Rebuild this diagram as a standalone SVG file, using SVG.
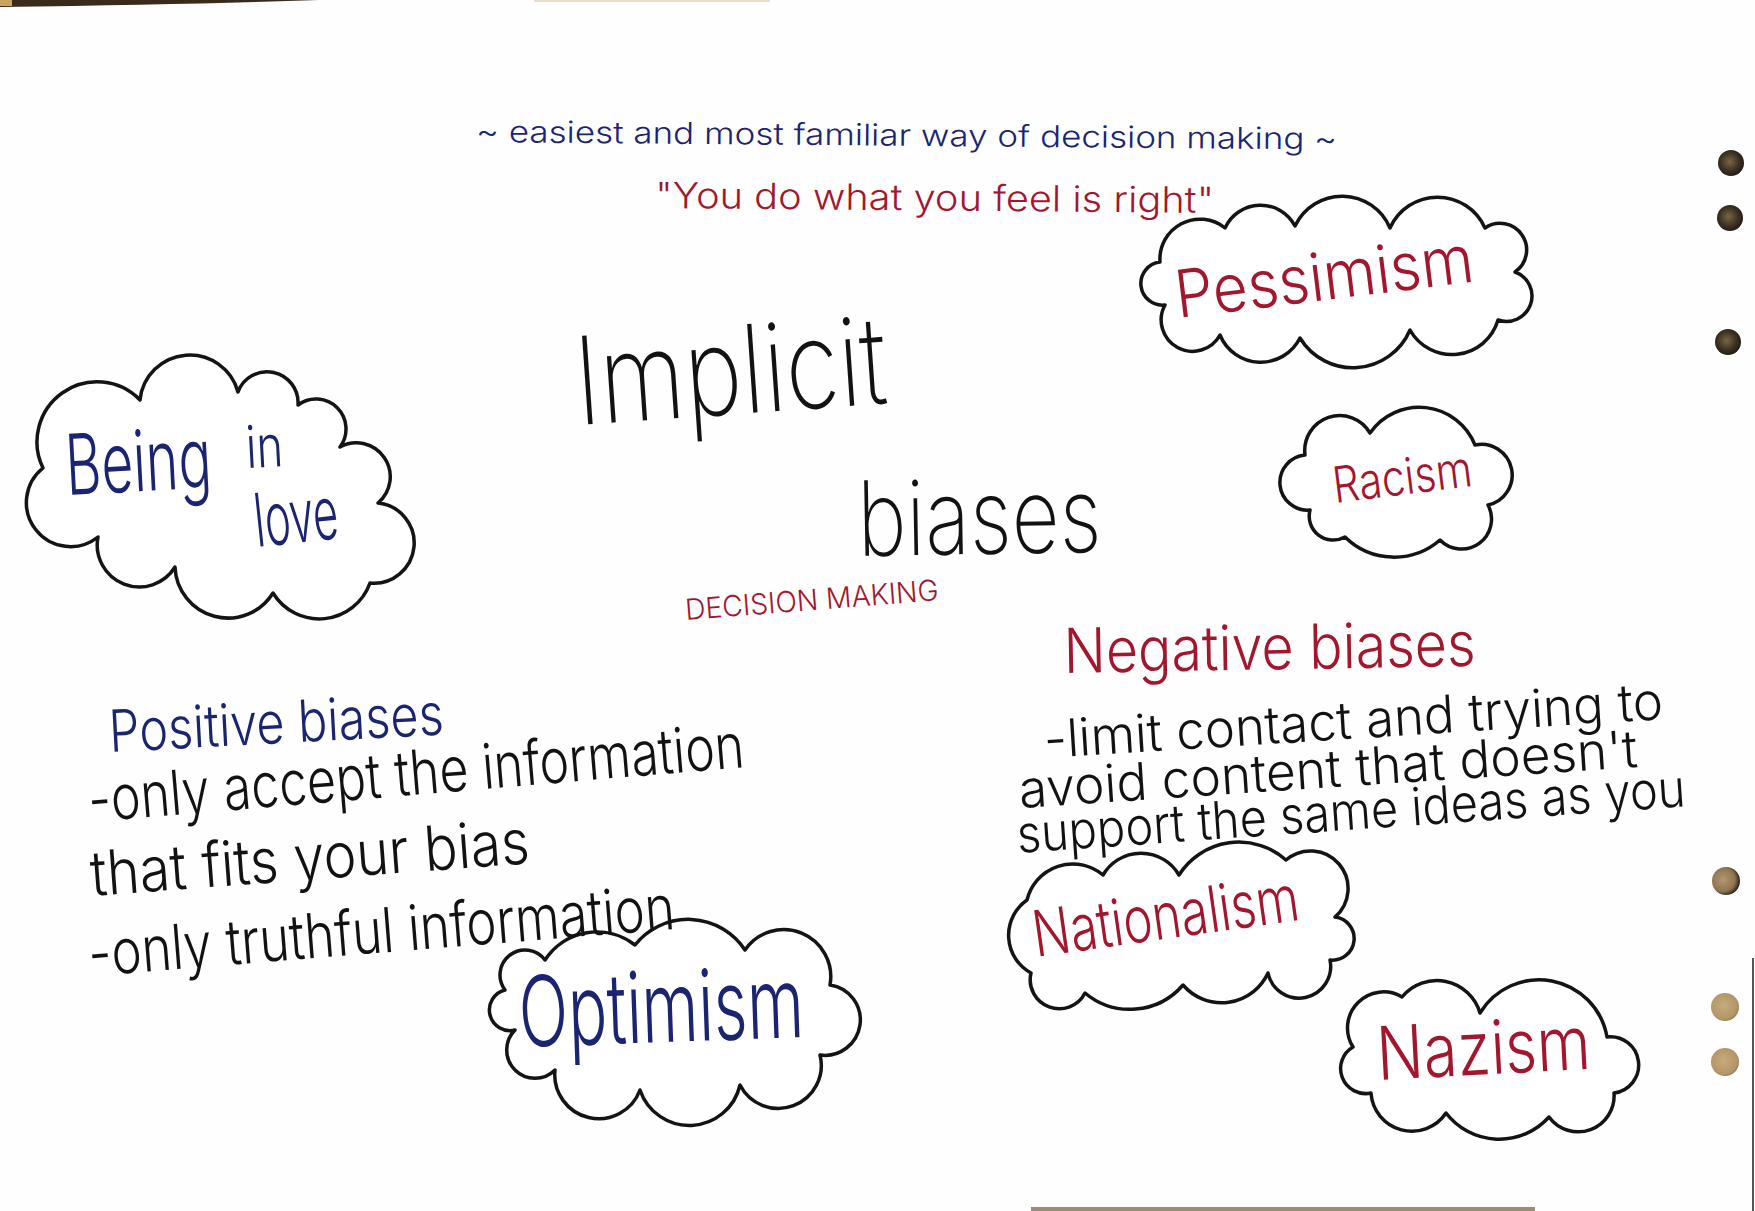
<svg xmlns="http://www.w3.org/2000/svg" width="1755" height="1211" viewBox="0 0 1755 1211">
<style>
.cloud{fill:#fff;stroke:#141414;stroke-width:3.5;stroke-linejoin:round}
.hw{font-family:Inter,"Liberation Sans",sans-serif;font-weight:300}
.thin{font-weight:200}
.blue{fill:#1b2470}
.red{fill:#a3172e}
.blk{fill:#121212}
</style>
<defs>
<radialGradient id="holeDark" cx="0.45" cy="0.45" r="0.6">
<stop offset="0" stop-color="#7a6646"/>
<stop offset="0.6" stop-color="#3c3122"/>
<stop offset="1" stop-color="#1e1810"/>
</radialGradient>
<radialGradient id="holeMix" cx="0.4" cy="0.45" r="0.6">
<stop offset="0" stop-color="#b29770"/>
<stop offset="0.7" stop-color="#8e7551"/>
<stop offset="1" stop-color="#2a2016"/>
</radialGradient>
<radialGradient id="holeTan" cx="0.45" cy="0.45" r="0.6">
<stop offset="0" stop-color="#c7ab7c"/>
<stop offset="0.8" stop-color="#b39567"/>
<stop offset="1" stop-color="#8c7350"/>
</radialGradient>
</defs>
<rect x="0" y="0" width="1755" height="1211" fill="#fefefe"/>
<g id="paper-edges">
<path d="M0,0 H318 Q200,4 0,7 Z" fill="#3a2a1b"/>
<rect x="0" y="0" width="12" height="6" fill="#c9a45e"/>
<rect x="534" y="0" width="236" height="2" fill="#e8e0cc"/>
<rect x="1031" y="1207" width="504" height="4" fill="#9a8c76"/>
<line x1="1753" y1="958" x2="1753" y2="1211" stroke="#555" stroke-width="2"/>
</g>
<g id="holes">
<circle cx="1731" cy="163" r="13" fill="url(#holeDark)"/>
<circle cx="1730" cy="218" r="13" fill="url(#holeDark)"/>
<circle cx="1728" cy="342" r="13" fill="url(#holeDark)"/>
<circle cx="1726" cy="881" r="14" fill="url(#holeMix)"/>
<circle cx="1725" cy="1007" r="14" fill="url(#holeTan)"/>
<circle cx="1725" cy="1062" r="14" fill="url(#holeTan)"/>
</g>
<g id="connectors"></g>
<g id="header">
<text class="hw blue" x="476" y="142" font-size="30" textLength="861" lengthAdjust="spacingAndGlyphs" transform="rotate(0.5 476 142)">~ easiest and most familiar way of decision making ~</text>
<text class="hw red" x="655" y="208" font-size="36" textLength="559" lengthAdjust="spacingAndGlyphs" transform="rotate(0.5 655 208)">"You do what you feel is right"</text>
</g>
<g id="title">
<text class="hw thin blk" x="578" y="425" font-size="122" textLength="312" lengthAdjust="spacingAndGlyphs" transform="rotate(-4 578 425)">Implicit</text>
<text class="hw thin blk" x="858" y="556" font-size="104" textLength="244" lengthAdjust="spacingAndGlyphs" transform="rotate(-1 858 556)">biases</text>
<text class="hw red" x="686" y="620" font-size="29" font-weight="600" textLength="254" lengthAdjust="spacingAndGlyphs" transform="rotate(-4.5 686 620)">DECISION MAKING</text>
</g>
<g id="being-in-love">
<path class="cloud" d="M43,468 A60,60 0 0 1 140,400 A50,50 0 0 1 238,392 A31,31 0 0 1 298,405 A30,30 0 0 1 340,447 A34,34 0 0 1 378,503 A40,40 0 0 1 370,583 A54,54 0 0 1 273,593 A53,53 0 0 1 175,567 A42,42 0 0 1 98,537 A44,44 0 0 1 43,468 Z"/>
<text class="hw blue" x="67" y="495" font-size="84" textLength="146" lengthAdjust="spacingAndGlyphs" transform="rotate(-3 67 495)">Being</text>
<text class="hw blue" x="247" y="468" font-size="58" textLength="37" lengthAdjust="spacingAndGlyphs" transform="rotate(-3 247 468)">in</text>
<text class="hw blue" x="257" y="547" font-size="74" textLength="84" lengthAdjust="spacingAndGlyphs" transform="rotate(-6 257 547)">love</text>
</g>
<g id="pessimism">
<path class="cloud" d="M1160,262 A40,40 0 0 1 1225,228 A39,39 0 0 1 1295,226 A52,52 0 0 1 1390,228 A52,52 0 0 1 1485,228 A24,24 0 0 1 1515,272 A25,25 0 0 1 1498,320 A48,48 0 0 1 1410,330 A62,62 0 0 1 1300,338 A44,44 0 0 1 1220,335 A31,31 0 0 1 1165,305 A21,21 0 0 1 1160,262 Z"/>
<text class="hw red" x="1178" y="318" font-size="66" textLength="300" lengthAdjust="spacingAndGlyphs" transform="rotate(-7 1178 318)">Pessimism</text>
</g>
<g id="racism">
<path class="cloud" d="M1305,455 A35,35 0 0 1 1370,433 A60,60 0 0 1 1475,445 A30,30 0 0 1 1488,505 A30,30 0 0 1 1440,540 A70,70 0 0 1 1345,537 A24,24 0 0 1 1310,510 A27,27 0 0 1 1305,455 Z"/>
<text class="hw red" x="1335" y="503" font-size="50" textLength="140" lengthAdjust="spacingAndGlyphs" transform="rotate(-7 1335 503)">Racism</text>
</g>
<g id="optimism">
<path class="cloud" d="M505,990 A25,25 0 0 1 545,960 A62,62 0 0 1 635,945 A68,68 0 0 1 745,950 A47,47 0 0 1 830,985 A35,35 0 0 1 820,1055 A43,43 0 0 1 740,1085 A52,52 0 0 1 640,1090 A44,44 0 0 1 555,1070 A28,28 0 0 1 515,1030 A20,20 0 0 1 505,990 Z"/>
<text class="hw blue" x="520" y="1047" font-size="98" textLength="285" lengthAdjust="spacingAndGlyphs" transform="rotate(-2 520 1047)">Optimism</text>
</g>
<g id="positive-biases">
<text class="hw blue" x="110" y="752" font-size="58" textLength="335" lengthAdjust="spacingAndGlyphs" transform="rotate(-3 110 752)">Positive biases</text>
<text class="hw blk" x="90" y="822" font-size="62" textLength="658" lengthAdjust="spacingAndGlyphs" transform="rotate(-4.8 90 822)">-only accept the information</text>
<text class="hw blk" x="92" y="896" font-size="62" textLength="440" lengthAdjust="spacingAndGlyphs" transform="rotate(-4.3 92 896)">that fits your bias</text>
<text class="hw blk" x="90" y="976" font-size="62" textLength="588" lengthAdjust="spacingAndGlyphs" transform="rotate(-4.6 90 976)">-only truthful information</text>
</g>
<g id="nationalism">
<path class="cloud" d="M1027,900 A47,47 0 0 1 1103,875 A44,44 0 0 1 1179,875 A71,71 0 0 1 1286,860 A37,37 0 0 1 1335,917 A21,21 0 0 1 1330,960 A31,31 0 0 1 1268,973 A51,51 0 0 1 1183,985 A70,70 0 0 1 1085,993 A29,29 0 0 1 1031,973 A43,43 0 0 1 1027,900 Z"/>
<text class="hw red" x="1036" y="957" font-size="64" textLength="268" lengthAdjust="spacingAndGlyphs" transform="rotate(-8 1036 957)">Nationalism</text>
</g>
<g id="negative-biases">
<text class="hw red" x="1064" y="673" font-size="62" textLength="412" lengthAdjust="spacingAndGlyphs" transform="rotate(-1 1064 673)">Negative biases</text>
<text class="hw blk" x="1045" y="758" font-size="52" textLength="620" lengthAdjust="spacingAndGlyphs" transform="rotate(-3.6 1045 758)">-limit contact and trying to</text>
<text class="hw blk" x="1020" y="808" font-size="52" textLength="620" lengthAdjust="spacingAndGlyphs" transform="rotate(-3.8 1020 808)">avoid content that doesn't</text>
<text class="hw blk" x="1018" y="853" font-size="52" textLength="670" lengthAdjust="spacingAndGlyphs" transform="rotate(-4 1018 853)">support the same ideas as you</text>
</g>
<g id="nazism">
<path class="cloud" d="M1353,1047 A36,36 0 0 1 1402,997 A45,45 0 0 1 1480,1013 A69,69 0 0 1 1607,1037 A28,28 0 0 1 1614,1093 A36,36 0 0 1 1549,1117 A67,67 0 0 1 1446,1113 A41,41 0 0 1 1371,1093 A25,25 0 0 1 1353,1047 Z"/>
<text class="hw red" x="1378" y="1080" font-size="74" textLength="214" lengthAdjust="spacingAndGlyphs" transform="rotate(-3 1378 1080)">Nazism</text>
</g>
</svg>
